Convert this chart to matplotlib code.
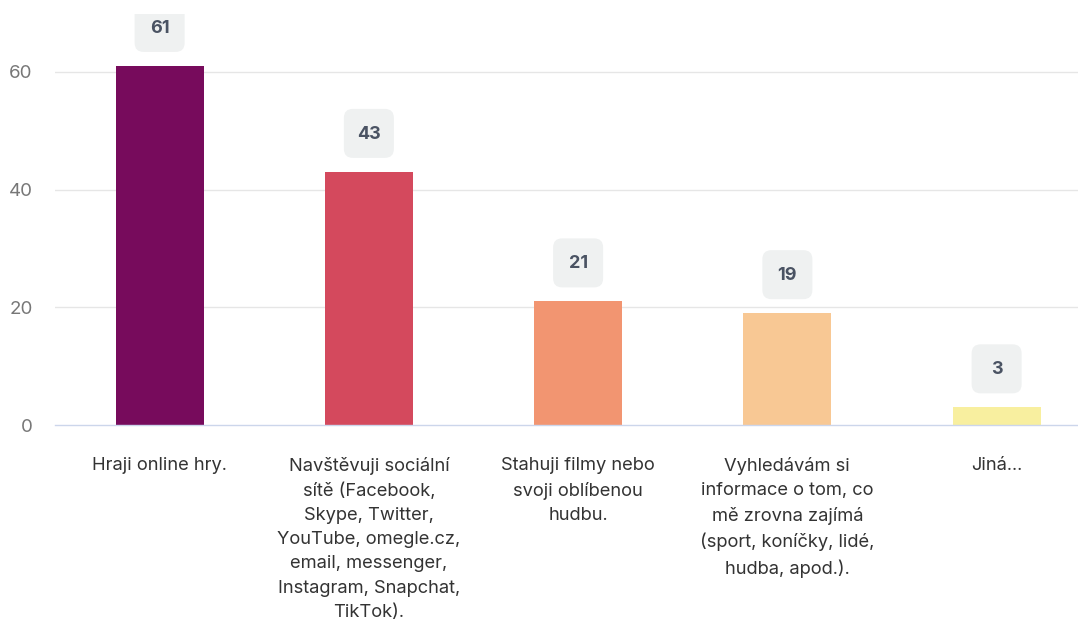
import matplotlib
matplotlib.use("Agg")
import matplotlib.pyplot as plt
import matplotlib.transforms as mtransforms
from matplotlib.patches import FancyBboxPatch

plt.rcParams["font.family"] = ["Inter", "DejaVu Sans"]

categories = [
    "Hraji online hry.",
    "Navštěvuji sociální\nsítě (Facebook,\nSkype, Twitter,\nYouTube, omegle.cz,\nemail, messenger,\nInstagram, Snapchat,\nTikTok).",
    "Stahuji filmy nebo\nsvoji oblíbenou\nhudbu.",
    "Vyhledávám si\ninformace o tom, co\nmě zrovna zajímá\n(sport, koníčky, lidé,\nhudba, apod.).",
    "Jiná...",
]
values = [61, 43, 21, 19, 3]
colors = ["#770b5c", "#d4495d", "#f29571", "#f8c894", "#f8ef9f"]
yticks = [0, 20, 40, 60]

W, H = 1078, 623
fig = plt.figure(figsize=(W / 100, H / 100), dpi=100)
ax = fig.add_axes([55 / W, 1 - 425 / H, 1 - 55 / W, 425 / H])

X = list(range(len(categories)))
ax.bar(X, values, width=0.42, color=colors, zorder=2)

# slot width ~209 px, first centre at 160 px
ax.set_xlim(-0.5, -0.5 + (W - 55) / 209.25)
ax.set_ylim(0, 72.2)
ax.set_yticks(yticks)
ax.set_yticklabels([str(t) for t in yticks], color="#777777", fontsize=13.5)
ax.tick_params(axis="y", length=0, pad=16)
ax.set_xticks([])
for t in yticks[1:]:
    ax.axhline(t, color="#e6e6e6", lw=1, zorder=1)
for s in ["top", "right", "left"]:
    ax.spines[s].set_visible(False)
ax.spines["bottom"].set_color("#ccd6eb")
ax.spines["bottom"].set_linewidth(1)

# clip labels at the top edge of the chart container
clip = mtransforms.TransformedBbox(
    mtransforms.Bbox([[0, 0], [1, (H - 14) / H]]), fig.transFigure)

# value labels in grey rounded boxes
for x, v in zip(X, values):
    trans = fig.dpi_scale_trans + mtransforms.ScaledTranslation(x, v, ax.transData)
    box = FancyBboxPatch((-0.25, 0.14), 0.5, 0.49,
                         boxstyle="round,pad=0,rounding_size=0.09",
                         fc="#eff1f1", ec="none", transform=trans,
                         zorder=3)
    ax.add_patch(box)
    box.set_clip_box(clip)
    ax.text(0, 0.375, str(v), transform=trans, ha="center", va="center",
            fontsize=13, fontweight="bold", color="#4a5363", zorder=4,
            clip_on=False)

# category labels
for x, c in zip(X, categories):
    trans = ax.transData + mtransforms.ScaledTranslation(0, -0.32, fig.dpi_scale_trans)
    ax.text(x, 0, c, transform=trans, ha="center", va="top", fontsize=13.2,
            color="#333333", linespacing=1.55, multialignment="center")

plt.savefig("out.png", dpi=100)
